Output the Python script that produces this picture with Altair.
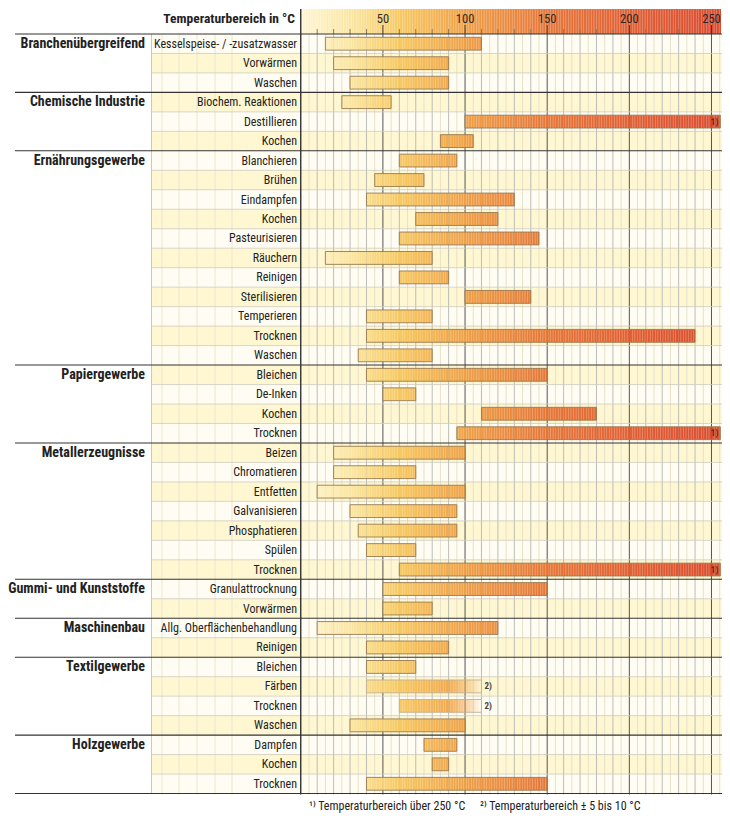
import altair as alt
import pandas as pd

# ---------------- data ----------------
groups = ["Branchenübergreifend", "Chemische Industrie", "Ernährungsgewerbe",
          "Papiergewerbe", "Metallerzeugnisse", "Gummi- und Kunststoffe",
          "Maschinenbau", "Textilgewerbe", "Holzgewerbe"]
group_sizes = [3, 3, 11, 4, 7, 2, 2, 4, 3]

processes = [
    "Kesselspeise- / -zusatzwasser", "Vorwärmen", "Waschen",
    "Biochem. Reaktionen", "Destillieren", "Kochen",
    "Blanchieren", "Brühen", "Eindampfen", "Kochen", "Pasteurisieren", "Räuchern",
    "Reinigen", "Sterilisieren", "Temperieren", "Trocknen", "Waschen",
    "Bleichen", "De-Inken", "Kochen", "Trocknen",
    "Beizen", "Chromatieren", "Entfetten", "Galvanisieren", "Phosphatieren", "Spülen", "Trocknen",
    "Granulattrocknung", "Vorwärmen",
    "Allg. Oberflächenbehandlung", "Reinigen",
    "Bleichen", "Färben", "Trocknen", "Waschen",
    "Dampfen", "Kochen", "Trocknen",
]
t_start = [15, 20, 30,
           25, 100, 85,
           60, 45, 40, 70, 60, 15, 60, 100, 40, 40, 35,
           40, 50, 110, 95,
           20, 20, 10, 30, 35, 40, 60,
           50, 50,
           10, 40,
           40, 40, 60, 30,
           75, 80, 40]
t_end = [110, 90, 90,
         55, 260, 105,
         95, 75, 130, 120, 145, 80, 90, 140, 80, 240, 80,
         150, 70, 180, 260,
         100, 70, 100, 95, 95, 70, 260,
         150, 80,
         120, 90,
         70, 110, 110, 100,
         95, 90, 150]
notes = ["", "", "",
         "", "1)", "",
         "", "", "", "", "", "", "", "", "", "", "",
         "", "", "", "1)",
         "", "", "", "", "", "", "1)",
         "", "",
         "", "",
         "", "2)", "2)", "",
         "", "", ""]
tick_labels = [50, 100, 150, 200, 250]
header_title = "Temperaturbereich in °C"
footnotes = ["¹⁾ Temperaturbereich über 250 °C", "²⁾ Temperaturbereich ± 5 bis 10 °C"]

# ---------------- layout constants ----------------
N = len(processes)
H = 806
HDR = 25
ROW = 19.5
ROWS_PX = ROW * N
FTR = H - HDR - ROWS_PX
Y_DOM = [-HDR / ROW, N + FTR / ROW]
PX_PER_DEG = 1.6615
LEFT_W = 289
RIGHT_W = 425
W = LEFT_W + RIGHT_W
X_MAX = RIGHT_W / PX_PER_DEG
X_DOM = [-LEFT_W / PX_PER_DEG, X_MAX]
FONT = "Liberation Sans Narrow, Roboto Condensed, Roboto, sans-serif"
FADE = 20

C_WHITE = "#fffdf3"
C_YELLOW = "#fef7d2"

# ---------------- derived tables ----------------
first_rows = []
r = 0
for n in group_sizes:
    first_rows.append(r)
    r += n
group_bounds = first_rows + [N]

rows = pd.DataFrame({"row": list(range(N)), "process": processes})
rows["y0"] = rows["row"]
rows["y1"] = rows["row"] + 1
rows["yc"] = rows["row"] + 0.5
rows["odd"] = rows["row"] % 2

grp = pd.DataFrame({"group": groups, "yc": [f + 0.5 for f in first_rows]})
gb = pd.DataFrame({"y": group_bounds})
rb = pd.DataFrame({"y": [i for i in range(1, N) if i not in group_bounds]})

bars = pd.DataFrame({"row": list(range(N)), "s": t_start, "e": t_end, "note": notes})
bars["ed"] = bars["e"].clip(upper=X_MAX - 0.4)
bars["yb0"] = bars["row"] + 0.17
bars["yb1"] = bars["row"] + 0.83
bars["yc"] = bars["row"] + 0.5
bars["fade"] = bars["note"] == "2)"

seg_rows = []
for i in range(N):
    s, e, nt = t_start[i], t_end[i], notes[i]
    for t in range(s, e):
        if t >= X_MAX:
            break
        op = 1.0
        if nt == "2)" and t >= e - FADE:
            op = max(0.0, 1.0 - (t + 0.5 - (e - FADE)) / FADE)
        seg_rows.append({"t0": t, "t1": min(t + 1, X_MAX - 0.4), "tc": t + 0.5,
                         "y0": i + 0.17, "y1": i + 0.83, "op": op})
segs = pd.DataFrame(seg_rows)

hdr = pd.DataFrame({"t0": list(range(int(X_MAX) + 1))})
hdr["t1"] = (hdr["t0"] + 1).clip(upper=X_MAX)
hdr["tc"] = hdr["t0"] + 0.5
hdr["y0"] = Y_DOM[0]
hdr["y1"] = 0

grid = pd.DataFrame({"t": list(range(5, int(X_MAX) + 1, 5))})
grid["kind"] = ["major" if t % 50 == 0 else ("minor" if t % 10 == 0 else "faint") for t in grid["t"]]
ticks = pd.DataFrame({"t": tick_labels, "lab": [str(v) for v in tick_labels]})

# faint texture lines in the process-name column (pixel positions)
texture_px = pd.DataFrame({"px": [147, 164, 182, 200, 217]})

# ---------------- scales ----------------
ys = alt.Scale(domain=Y_DOM, reverse=True, nice=False, zero=False)
xs = alt.Scale(domain=X_DOM, nice=False, zero=False)
cs = alt.Scale(domain=[0, 30, 60, 100, 150, 200, 260],
               range=["#fff6d6", "#fbe6a2", "#f7c862", "#efa048", "#e6773a", "#e06035", "#d94a30"],
               interpolate="rgb")

Y = lambda f: alt.Y(f, scale=ys, axis=None)
X = lambda f: alt.X(f, scale=xs, axis=None)

# ---------------- label columns (left) ----------------
L_PROC_X0 = 137
bg_left = alt.Chart(rows).mark_rect().encode(
    x=alt.value(L_PROC_X0), x2=alt.value(LEFT_W), y=Y("y0:Q"), y2="y1:Q",
    color=alt.condition("datum.odd == 1", alt.value(C_YELLOW), alt.value(C_WHITE)))
texture_left = alt.Chart(texture_px).mark_rule(color="#ebe6cf", strokeWidth=1).encode(
    x=alt.X("px:Q", scale=None), y=alt.value(HDR), y2=alt.value(HDR + ROWS_PX))
vsep_left = alt.Chart(pd.DataFrame({"a": [0], "b": [N]})).mark_rule(color="#bdbbb0", strokeWidth=0.8).encode(
    x=alt.value(L_PROC_X0 - 0.5), y=Y("a:Q"), y2="b:Q")
grp_text = alt.Chart(grp).mark_text(align="right", baseline="middle", font=FONT,
                                    fontSize=14, fontWeight="bold", color="#222222").encode(
    x=alt.value(130), y=Y("yc:Q"), text="group:N")
proc_text = alt.Chart(rows).mark_text(align="right", baseline="middle", font=FONT,
                                      fontSize=12, color="#222222").encode(
    x=alt.value(282), y=Y("yc:Q"), text="process:N")
title_text = alt.Chart(pd.DataFrame({"y": [-0.75], "txt": [header_title]})).mark_text(
    align="right", baseline="middle", font=FONT, fontSize=13.5, fontWeight="bold", color="#222222").encode(
    x=alt.value(280), y=Y("y:Q"), text="txt:N")

# ---------------- temperature area ----------------
bg_right = alt.Chart(rows).mark_rect().encode(
    x=alt.value(LEFT_W), x2=alt.value(W), y=Y("y0:Q"), y2="y1:Q",
    color=alt.condition("datum.odd == 1", alt.value(C_YELLOW), alt.value(C_WHITE)))
header = alt.Chart(hdr).mark_rect().encode(
    x=X("t0:Q"), x2="t1:Q", y=Y("y0:Q"), y2="y1:Q",
    color=alt.Color("tc:Q", scale=cs, legend=None))
faint_grid = alt.Chart(grid).transform_filter("datum.kind == 'faint'").mark_rule(
    color="#e6e1c8", strokeWidth=1).encode(
    x=X("t:Q"), y=alt.value(HDR), y2=alt.value(HDR + ROWS_PX))
minor_grid = alt.Chart(grid).transform_filter("datum.kind == 'minor'").mark_rule(
    color="#bdbdb5", strokeWidth=1).encode(
    x=X("t:Q"), y=alt.value(HDR), y2=alt.value(HDR + ROWS_PX))
major_grid = alt.Chart(grid).transform_filter("datum.kind == 'major'").mark_rule(
    color="#555555", strokeWidth=1).encode(
    x=X("t:Q"), y=alt.value(HDR), y2=alt.value(HDR + ROWS_PX))
rowlines = alt.Chart(rb).mark_rule(color="#cfccbe", strokeWidth=0.8).encode(
    x=alt.value(L_PROC_X0), x2=alt.value(W), y=Y("y:Q"))
minor_ticks = alt.Chart(grid).transform_filter("datum.kind == 'minor'").mark_rule(
    color="#8a7a60", strokeWidth=1).encode(
    x=X("t:Q"), y=alt.value(HDR - 5), y2=alt.value(HDR))
major_ticks = alt.Chart(grid).transform_filter("datum.kind == 'major'").mark_rule(
    color="#3a3a3a", strokeWidth=1).encode(
    x=X("t:Q"), y=alt.value(HDR - 9), y2=alt.value(HDR))
tick_text = alt.Chart(ticks).mark_text(baseline="middle", font=FONT, fontSize=12.5, color="#2a2a2a").encode(
    x=X("t:Q"), y=alt.value(HDR - 15), text="lab:N")

seg = alt.Chart(segs).mark_rect().encode(
    x=X("t0:Q"), x2="t1:Q", y=Y("y0:Q"), y2="y1:Q",
    color=alt.Color("tc:Q", scale=cs, legend=None),
    opacity=alt.Opacity("op:Q", scale=None))
outline = alt.Chart(bars).transform_filter("!datum.fade").mark_rect(
    filled=False, stroke="#9a7a50", strokeWidth=0.9).encode(
    x=X("s:Q"), x2="ed:Q", y=Y("yb0:Q"), y2="yb1:Q")
outline_fade = alt.Chart(bars).transform_filter("datum.fade").mark_rect(
    filled=False, stroke="#bfb19a", strokeWidth=0.9).encode(
    x=X("s:Q"), x2="ed:Q", y=Y("yb0:Q"), y2="yb1:Q")
note1 = alt.Chart(bars).transform_filter("datum.note == '1)'").mark_text(
    align="right", baseline="middle", font=FONT, fontSize=9, fontWeight="bold", color="#6a2a14", dx=-2).encode(
    x=X("ed:Q"), y=Y("yc:Q"), text="note:N")
note2 = alt.Chart(bars).transform_filter("datum.note == '2)'").mark_text(
    align="left", baseline="middle", font=FONT, fontSize=9, fontWeight="bold", color="#444444", dx=3).encode(
    x=X("ed:Q"), y=Y("yc:Q"), text="note:N")
axis0 = alt.Chart(pd.DataFrame({"t": [0]})).mark_rule(color="#222222", strokeWidth=1.3).encode(
    x=X("t:Q"), y=alt.value(0), y2=alt.value(HDR + ROWS_PX))
glines = alt.Chart(gb).mark_rule(color="#333333", strokeWidth=1.1).encode(
    x=alt.value(0), x2=alt.value(W), y=Y("y:Q"))
foot_df = pd.DataFrame({"txt": footnotes, "px": [LEFT_W + 5, LEFT_W + 176]})
foot_df["y"] = N + FTR / ROW * 0.6
foot = alt.Chart(foot_df).mark_text(
    align="left", baseline="middle", font=FONT, fontSize=12, color="#222222").encode(
    x=alt.X("px:Q", scale=None), y=Y("y:Q"), text="txt:N")

chart = alt.layer(
    bg_left, bg_right, texture_left, header, faint_grid, minor_grid, major_grid, rowlines, vsep_left,
    minor_ticks, major_ticks, tick_text,
    seg, outline, outline_fade, note1, note2, axis0, glines,
    grp_text, proc_text, title_text, foot,
).properties(
    width=W, height=H, padding=0,
    autosize=alt.AutoSizeParams(type="fit", contains="padding"),
).configure_view(stroke=None)
chart.save("out.html", embed_options={"renderer": "svg", "actions": False})
